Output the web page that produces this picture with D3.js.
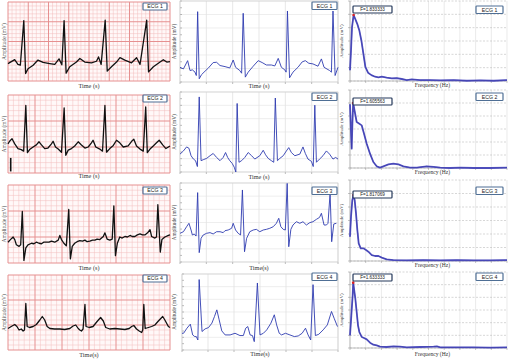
<!DOCTYPE html>
<html>
<head>
<meta charset="utf-8">
<style>
body { margin: 0; background: #fff; }
svg { display: block; font-family: "Liberation Serif", "Times New Roman", serif; }
.box text { font-family: "Liberation Sans", Arial, sans-serif; }
</style>
</head>
<body>
<svg width="508" height="359"></svg>
<script src="https://cdn.jsdelivr.net/npm/d3@7/dist/d3.min.js"></script>
<script>

var ecgNames = ["ECG 1", "ECG 2", "ECG 3", "ECG 4"];
var peakLabels = ["F=1.833333", "F=1.605563", "F=1.817069", "F=1.633333"];
var paperXLabels = ["Time (s)", "Time (s)", "Time (s)", "Time(s)"];
var digiXLabels = ["Time (s)", "Time (s)", "Time(s)", "Time(s)"];
var yLabel = "Amplitude (mV)";
var fLabel = "Frequency (Hz)";

// ECG paper records: [time (s), amplitude (mV)]
var paper1 = [[0,-0.06],[0.33,0.04],[0.49,-0.08],[0.61,-0.10],[0.78,1.03],[0.87,-0.31],[0.99,-0.19],[1.24,-0.10],[1.48,0.03],[1.73,-0.03],[2.06,-0.06],[2.31,-0.08],[2.52,0.06],[2.66,-0.09],[2.77,1.03],[2.87,-0.30],[3.05,-0.14],[3.38,-0.02],[3.55,0.07],[3.79,-0.02],[4.12,-0.04],[4.37,0.0],[4.47,0.11],[4.60,-0.08],[4.80,1.04],[4.90,-0.25],[5.11,-0.14],[5.36,-0.02],[5.53,0.09],[5.77,0.03],[6.10,-0.04],[6.35,0.09],[6.52,-0.08],[6.85,1.04],[6.94,-0.27],[7.18,-0.14],[7.51,-0.02],[7.67,0.04],[7.84,-0.02],[8.0,-0.01]];
var paper2 = [[0,0.06],[0.06,0.11],[0.15,0.16],[0.25,0.06],[0.37,-0.03],[0.49,-0.05],[0.58,-0.08],[0.66,0.80],[0.72,-0.11],[0.80,-0.05],[0.93,0.0],[1.05,0.04],[1.15,0.10],[1.24,0.04],[1.36,-0.03],[1.48,-0.02],[1.61,0.06],[1.67,0.11],[1.76,0.0],[1.86,-0.04],[1.98,-0.10],[2.08,0.75],[2.14,-0.16],[2.23,-0.06],[2.35,-0.03],[2.47,0.02],[2.60,0.10],[2.72,0.04],[2.85,-0.02],[2.97,0.0],[3.09,0.08],[3.15,0.13],[3.25,0.0],[3.40,-0.04],[3.50,-0.08],[3.59,0.80],[3.65,-0.10],[3.77,-0.03],[3.90,0.03],[4.02,0.13],[4.14,0.08],[4.27,0.0],[4.45,0.02],[4.58,0.11],[4.66,0.15],[4.76,0.02],[4.89,-0.04],[5.01,-0.08],[5.10,0.77],[5.16,-0.11],[5.26,-0.04],[5.38,0.02],[5.50,0.08],[5.60,0.13],[5.73,0.04],[5.85,-0.03],[6.0,0.02]];
var calib2 = [[0.1,-0.21],[0.1,-0.47]];
var paper3 = [[0,-0.10],[0.09,-0.05],[0.19,0.0],[0.25,-0.05],[0.31,-0.15],[0.41,-0.18],[0.47,-0.15],[0.53,0.49],[0.59,-0.45],[0.66,-0.21],[0.74,-0.15],[0.87,-0.12],[0.96,-0.13],[1.05,-0.10],[1.15,-0.12],[1.24,-0.13],[1.32,-0.10],[1.42,-0.10],[1.52,-0.10],[1.61,-0.08],[1.73,-0.10],[1.86,-0.06],[1.92,0.03],[1.98,-0.05],[2.07,-0.12],[2.16,-0.17],[2.25,0.53],[2.31,-0.42],[2.38,-0.18],[2.47,-0.12],[2.56,-0.09],[2.66,-0.07],[2.76,-0.08],[2.85,-0.06],[2.93,-0.09],[3.03,-0.08],[3.13,-0.06],[3.22,-0.06],[3.30,-0.04],[3.40,-0.05],[3.53,0.01],[3.59,0.08],[3.67,-0.04],[3.77,-0.06],[3.86,-0.04],[3.92,0.60],[3.98,-0.36],[4.05,-0.12],[4.14,0.0],[4.23,-0.02],[4.33,0.01],[4.42,0.0],[4.52,0.03],[4.60,0.01],[4.70,0.01],[4.79,0.04],[4.89,0.06],[4.98,0.04],[5.07,0.04],[5.17,0.08],[5.26,0.14],[5.32,0.01],[5.44,-0.02],[5.50,0.0],[5.55,0.62],[5.64,-0.29],[5.70,-0.05],[5.81,0.0],[5.94,0.03],[6.0,0.04]];
var paper4 = [[0,-0.07],[0.12,-0.03],[0.25,0.01],[0.33,-0.03],[0.41,-0.10],[0.49,-0.08],[0.56,-0.12],[0.61,-0.10],[0.66,0.43],[0.71,-0.03],[0.80,-0.05],[0.93,-0.03],[1.05,0.01],[1.18,0.10],[1.27,0.17],[1.36,0.10],[1.45,-0.03],[1.55,-0.07],[1.73,-0.08],[1.92,-0.08],[2.10,-0.09],[2.29,-0.07],[2.41,-0.02],[2.51,0.0],[2.60,-0.07],[2.66,-0.10],[2.72,-0.12],[2.78,-0.08],[2.85,0.41],[2.89,-0.03],[3.01,-0.05],[3.15,-0.03],[3.30,0.07],[3.43,0.15],[3.53,0.08],[3.62,-0.05],[3.77,-0.08],[3.96,-0.07],[4.14,-0.08],[4.33,-0.09],[4.49,-0.07],[4.58,-0.03],[4.66,-0.01],[4.76,-0.08],[4.86,-0.12],[4.95,-0.15],[4.99,-0.10],[5.03,0.41],[5.08,-0.07],[5.20,-0.05],[5.32,-0.03],[5.44,0.0],[5.57,0.08],[5.73,0.17],[5.81,0.10],[5.94,-0.03],[6.0,-0.05]];

// digitised records: [time (s), amplitude (mV)]
var digi1 = [[0,-0.91],[0.13,-1.03],[0.29,-0.42],[0.38,-1.15],[0.47,-1.10],[0.57,-1.27],[0.62,-1.52],[0.67,3.21],[0.73,-1.76],[0.82,-1.45],[0.95,-1.20],[1.07,-0.98],[1.26,-0.56],[1.39,-0.54],[1.52,-0.78],[1.71,-0.86],[1.89,-0.96],[2.02,-0.37],[2.11,-0.91],[2.27,-1.15],[2.34,-1.35],[2.40,3.09],[2.48,-1.64],[2.59,-1.27],[2.78,-0.83],[2.97,-0.42],[3.12,-0.56],[3.28,-0.74],[3.47,-0.74],[3.60,-0.81],[3.73,-0.25],[3.85,-0.91],[3.98,-1.10],[4.03,-1.27],[4.08,3.26],[4.16,-1.69],[4.29,-1.27],[4.48,-0.91],[4.64,-0.51],[4.76,-0.42],[4.89,-0.61],[5.05,-0.66],[5.24,-0.83],[5.37,-0.29],[5.47,-0.91],[5.68,-1.15],[5.75,-1.27],[5.81,3.26],[5.89,-1.52],[6.0,-0.91]];
var digi2 = [[0,-0.66],[0.13,-0.42],[0.25,-0.12],[0.34,-0.22],[0.42,-0.78],[0.51,-1.03],[0.59,-1.15],[0.66,-1.59],[0.73,3.63],[0.80,-1.15],[0.88,-1.08],[1.01,-0.98],[1.14,-0.78],[1.26,-0.61],[1.39,-0.91],[1.52,-1.15],[1.64,-0.91],[1.73,-0.54],[1.81,-0.91],[1.89,-1.15],[1.98,-1.35],[2.06,-1.64],[2.12,-2.0],[2.17,3.14],[2.24,-1.27],[2.34,-1.15],[2.46,-0.91],[2.59,-0.54],[2.72,-0.78],[2.84,-1.03],[3.03,-0.78],[3.16,-0.37],[3.25,-0.71],[3.35,-0.98],[3.47,-1.15],[3.56,-1.27],[3.62,3.55],[3.70,-1.15],[3.79,-0.98],[3.92,-0.78],[4.04,-0.42],[4.13,-0.17],[4.23,-0.54],[4.36,-0.78],[4.55,-0.66],[4.67,-0.12],[4.76,-0.61],[4.86,-1.03],[4.99,-1.20],[5.06,-1.59],[5.12,3.01],[5.18,-1.27],[5.30,-1.03],[5.43,-0.78],[5.56,-0.42],[5.68,-0.66],[5.81,-1.03],[5.91,-0.91],[6.0,-1.03]];
var digi3 = [[0,0.18],[0.13,0.30],[0.25,0.68],[0.34,0.94],[0.42,0.43],[0.47,0.05],[0.54,0.13],[0.61,-0.03],[0.67,3.27],[0.73,-1.29],[0.80,-0.20],[0.88,0.05],[1.01,0.18],[1.14,0.23],[1.26,0.13],[1.39,0.30],[1.52,0.30],[1.64,0.23],[1.71,0.38],[1.83,0.43],[1.96,0.56],[2.02,0.94],[2.11,0.43],[2.21,0.18],[2.30,0.05],[2.37,3.47],[2.45,-1.22],[2.53,-0.20],[2.65,0.30],[2.78,0.43],[2.90,0.48],[3.03,0.30],[3.16,0.43],[3.28,0.48],[3.41,0.56],[3.54,0.68],[3.66,0.94],[3.75,1.32],[3.83,0.68],[3.92,0.48],[4.00,0.43],[4.07,3.97],[4.13,-0.84],[4.21,0.48],[4.29,0.81],[4.42,1.06],[4.55,0.94],[4.67,1.06],[4.80,0.81],[4.93,0.99],[5.05,1.06],[5.18,1.24],[5.30,1.39],[5.37,1.70],[5.47,0.81],[5.56,0.81],[5.62,0.94],[5.70,3.22],[5.76,-0.46],[5.84,0.89],[5.94,0.94]];
var digi4 = [[0,-0.68],[0.06,-0.68],[0.19,-0.28],[0.32,0.04],[0.41,-0.81],[0.49,-0.94],[0.55,-0.94],[0.61,-1.21],[0.66,3.56],[0.77,-0.54],[0.89,-0.33],[1.02,-0.23],[1.15,0.12],[1.25,0.65],[1.34,1.17],[1.43,0.38],[1.53,-0.49],[1.66,-0.81],[1.85,-0.81],[2.04,-0.68],[2.23,-0.86],[2.36,-0.86],[2.45,-0.28],[2.53,-0.15],[2.62,-0.81],[2.71,-0.86],[2.78,-1.34],[2.90,3.29],[3.00,-0.81],[3.13,-0.68],[3.26,-0.41],[3.42,0.12],[3.55,0.78],[3.64,-0.02],[3.74,-0.68],[3.83,-0.81],[3.98,-0.68],[4.15,-0.81],[4.32,-0.94],[4.47,-0.89],[4.62,-0.68],[4.75,-0.28],[4.85,-0.81],[4.95,-1.21],[5.04,3.16],[5.13,-0.86],[5.26,-0.76],[5.43,-0.41],[5.59,-0.02],[5.75,1.04],[5.85,0.51],[5.98,-0.15]];

// spectra: [frequency (Hz), amplitude]
var spec1 = [[0,0.81],[0.51,2.30],[1.02,4.02],[1.83,4.95],[2.72,4.64],[3.74,4.27],[4.77,3.78],[5.79,3.04],[6.81,2.05],[7.83,1.06],[9.19,0.62],[10.9,0.44],[12.8,0.32],[14.5,0.27],[16.2,0.32],[18.7,0.25],[21.3,0.20],[23.8,0.22],[26.4,0.15],[28.9,0.07],[31.5,0.12],[35.7,0.07],[40.8,0.07],[46.0,0.05],[52.8,0.07],[59.6,0.02],[66.4,0.05],[73.2,0.02],[80,0.07]];
var spec2 = [[0,4.9],[0.4,3.2],[0.85,1.49],[1.2,3.3],[1.61,5.0],[3.40,3.54],[4.77,3.41],[5.96,3.28],[7.15,2.64],[8.51,1.87],[10.2,1.10],[11.9,0.46],[13.6,0.13],[15.3,0.03],[17.0,0.13],[19.6,0.28],[22.1,0.33],[24.7,0.28],[27.2,0.13],[30.6,0.03],[34.0,0.03],[39.1,0.13],[42.6,0.08],[46.0,0.03],[51.1,0.0],[56.2,0.03],[63.0,0.0],[71.5,0.0],[80,0.03]];
var spec3 = [[0,1.80],[0.51,3.28],[1.19,4.52],[1.82,4.89],[2.38,4.52],[3.06,3.53],[3.74,2.30],[4.43,1.31],[5.45,0.94],[6.81,0.94],[8.17,0.81],[9.36,0.69],[11.1,0.44],[12.8,0.37],[14.5,0.37],[16.2,0.25],[18.7,0.12],[22.1,0.07],[28.9,0.05],[37.4,0.07],[46.0,0.05],[54.5,0.07],[63.0,0.05],[71.5,0.05],[80,0.07]];
var spec4 = [[0,1.0],[0.68,2.58],[1.36,4.16],[1.63,5.16],[2.72,3.89],[3.40,2.84],[4.08,1.79],[4.77,1.26],[5.96,0.87],[7.15,0.79],[8.51,0.68],[10.2,0.42],[11.9,0.26],[13.6,0.21],[15.3,0.11],[18.7,0.08],[22.1,0.13],[25.5,0.11],[28.9,0.05],[35.7,0.08],[42.6,0.11],[44.3,0.13],[46.0,0.05],[54.5,0.05],[63.0,0.05],[71.5,0.03],[80,0.05]];

var paperData = [paper1, paper2, paper3, paper4];
var digiData = [digi1, digi2, digi3, digi4];
var specData = [spec1, spec2, spec3, spec4];

// layout
var leftBoxes = [{x0:8,x1:170,y0:2,y1:81},{x0:8,x1:170,y0:95,y1:173},{x0:8,x1:170,y0:185,y1:263},{x0:8,x1:170,y0:275,y1:350}];
var midBoxes = [{x0:180,x1:338,y0:1,y1:82},{x0:180,x1:338,y0:92,y1:172},{x0:180,x1:338,y0:183,y1:262},{x0:182,x1:338,y0:274,y1:350}];
var rightBoxes = [{x0:350,x1:507,y0:1,y1:81},{x0:350,x1:507,y0:90,y1:168},{x0:350,x1:507,y0:180,y1:261},{x0:350,x1:507,y0:272,y1:348}];
var leftLabY = [88, 178, 270, 357], midLabY = [88, 179, 270, 356], rightLabY = [87, 174, 267, 356];
var leftTagY = [3, 95, 187, 275], midTagY = [2, 93, 187, 273], rightTagY = [6, 93, 187, 273];
var peakTagY = [6, 98, 191, 274];

var svg = d3.select("svg");

function tag(x, y, w, h, txt, stroke, fs) {
  var g = svg.append("g").attr("class", "box");
  g.append("rect").attr("x", x).attr("y", y).attr("width", w).attr("height", h)
    .attr("fill", "#fff").attr("stroke", stroke).attr("stroke-width", 1.2).attr("rx", 0.8);
  g.append("text").attr("x", x + w / 2).attr("y", y + h / 2 + fs * 0.36)
    .attr("text-anchor", "middle").attr("font-size", fs).attr("fill", "#222").text(txt);
}

function vlabel(x, yc, txt, fs) {
  svg.append("text").attr("transform", "translate(" + x + "," + yc + ") rotate(-90)")
    .attr("text-anchor", "middle").attr("font-size", fs).attr("fill", "#444").text(txt);
}

function hlabel(xc, y, txt, fs) {
  svg.append("text").attr("x", xc).attr("y", y).attr("text-anchor", "middle")
    .attr("font-size", fs).attr("fill", "#333").text(txt);
}

// ---------- ECG paper panels ----------
function paperPanel(i) {
  var b = leftBoxes[i];
  var xMax = i == 0 ? 8 : 6;
  var yDom = i == 0 ? [-0.5, 1.5] : [-0.5, 1.0];
  var x = d3.scaleLinear().domain([0, xMax]).range([b.x0, b.x1]);
  var y = d3.scaleLinear().domain(yDom).range([b.y1, b.y0]);
  var g = svg.append("g");
  g.append("rect").attr("x", b.x0).attr("y", b.y0).attr("width", b.x1 - b.x0).attr("height", b.y1 - b.y0).attr("fill", "#fff8f8");

  var nx = xMax * 5, ny = Math.round((yDom[1] - yDom[0]) * 10);
  var vx = d3.range(nx + 1), vy = d3.range(ny + 1);
  g.selectAll(".mx").data(vx.filter(function(k) { return k % 5; })).enter().append("line")
    .attr("x1", function(k) { return x(k / 5); }).attr("x2", function(k) { return x(k / 5); })
    .attr("y1", b.y0).attr("y2", b.y1).attr("stroke", "#f2bcbc").attr("stroke-width", 0.5);
  g.selectAll(".my").data(vy.filter(function(k) { return k % 5; })).enter().append("line")
    .attr("y1", function(k) { return y(yDom[0] + k / 10); }).attr("y2", function(k) { return y(yDom[0] + k / 10); })
    .attr("x1", b.x0).attr("x2", b.x1).attr("stroke", "#f2bcbc").attr("stroke-width", 0.5);
  g.selectAll(".Mx").data(vx.filter(function(k) { return k % 5 == 0; })).enter().append("line")
    .attr("x1", function(k) { return x(k / 5); }).attr("x2", function(k) { return x(k / 5); })
    .attr("y1", b.y0).attr("y2", b.y1).attr("stroke", "#e69090").attr("stroke-width", 1);
  g.selectAll(".My").data(vy.filter(function(k) { return k % 5 == 0; })).enter().append("line")
    .attr("y1", function(k) { return y(yDom[0] + k / 10); }).attr("y2", function(k) { return y(yDom[0] + k / 10); })
    .attr("x1", b.x0).attr("x2", b.x1).attr("stroke", "#e69090").attr("stroke-width", 1);

  var line = d3.line().x(function(d) { return x(d[0]); }).y(function(d) { return y(d[1]); });
  g.append("path").attr("d", line(paperData[i])).attr("fill", "none")
    .attr("stroke", "#111").attr("stroke-width", 1.3).attr("stroke-linejoin", "round");
  if (i == 1) {
    g.append("path").attr("d", line(calib2)).attr("stroke", "#111").attr("stroke-width", 1.6);
  }

  tag(143, leftTagY[i], 24, 7, ecgNames[i], "#4f6f95", 5.2);
  vlabel(6, (b.y0 + b.y1) / 2, yLabel, 5.5);
  hlabel((b.x0 + b.x1) / 2, leftLabY[i], paperXLabels[i], 6.2);
}

// ---------- digitised panels ----------
function digiPanel(i) {
  var b = midBoxes[i];
  var x = d3.scaleLinear().domain([0, 6]).range([b.x0, b.x1]);
  var y = d3.scaleLinear().domain([-2, 4]).range([b.y1, b.y0]);
  var g = svg.append("g");
  var ticks = d3.range(0, 7), yt = d3.range(-2, 5), yMinor = d3.range(-4, 9).map(function(k) { return k / 2; });

  g.selectAll(".gx").data(ticks).enter().append("line")
    .attr("x1", x).attr("x2", x).attr("y1", b.y0).attr("y2", b.y1)
    .attr("stroke", "#d6d6d6").attr("stroke-width", 0.6);
  g.selectAll(".gy").data(yt).enter().append("line")
    .attr("y1", y).attr("y2", y).attr("x1", b.x0).attr("x2", b.x1)
    .attr("stroke", "#e2e2e2").attr("stroke-width", 0.6);
  g.selectAll(".ty").data(yMinor).enter().append("line")
    .attr("y1", y).attr("y2", y).attr("x1", b.x0).attr("x2", b.x0 + 2)
    .attr("stroke", "#777").attr("stroke-width", 0.5);
  g.selectAll(".tx").data(ticks).enter().append("line")
    .attr("x1", x).attr("x2", x).attr("y1", b.y1).attr("y2", b.y1 + 2)
    .attr("stroke", "#777").attr("stroke-width", 0.5);
  g.append("rect").attr("x", b.x0).attr("y", b.y0).attr("width", b.x1 - b.x0).attr("height", b.y1 - b.y0)
    .attr("fill", "none").attr("stroke", "#c8c8c8").attr("stroke-width", 0.6);

  var line = d3.line().x(function(d) { return x(d[0]); }).y(function(d) { return y(d[1]); });
  g.append("path").attr("d", line(digiData[i])).attr("fill", "none")
    .attr("stroke", "#2e3bb0").attr("stroke-width", 0.9).attr("stroke-linejoin", "round");

  tag(312, midTagY[i], 25, 7.5, ecgNames[i], "#4f6f95", 5.2);
  vlabel(176, (b.y0 + b.y1) / 2, yLabel, 5.3);
  hlabel((b.x0 + b.x1) / 2, midLabY[i], digiXLabels[i], 6.2);
}

// ---------- spectrum panels ----------
function specPanel(i) {
  var b = rightBoxes[i];
  var x = d3.scaleLinear().domain([0, 80]).range([b.x0, b.x1]);
  var y = d3.scaleLinear().domain([0, 6]).range([b.y1, b.y0]);
  var g = svg.append("g");
  var xt = d3.range(0, 81, 8), yt = d3.range(0, 7);

  g.selectAll(".gx").data(xt).enter().append("line")
    .attr("x1", x).attr("x2", x).attr("y1", b.y0).attr("y2", b.y1)
    .attr("stroke", "#dcdcdc").attr("stroke-width", 0.6);
  g.selectAll(".gy").data(yt).enter().append("line")
    .attr("y1", y).attr("y2", y).attr("x1", b.x0).attr("x2", b.x1)
    .attr("stroke", "#bcbcbc").attr("stroke-width", 0.6).attr("stroke-dasharray", "2,1.5");
  g.selectAll(".ty").data(yt).enter().append("line")
    .attr("y1", y).attr("y2", y).attr("x1", b.x0 - 2).attr("x2", b.x0)
    .attr("stroke", "#888").attr("stroke-width", 0.5);
  g.selectAll(".tx").data(xt).enter().append("line")
    .attr("x1", x).attr("x2", x).attr("y1", b.y1).attr("y2", b.y1 + 2)
    .attr("stroke", "#888").attr("stroke-width", 0.5);
  g.append("line").attr("x1", b.x0).attr("x2", b.x0).attr("y1", b.y0).attr("y2", b.y1)
    .attr("stroke", "#999").attr("stroke-width", 0.6);
  g.append("line").attr("x1", b.x0).attr("x2", b.x1).attr("y1", b.y1).attr("y2", b.y1)
    .attr("stroke", "#999").attr("stroke-width", 0.6);

  var data = specData[i];
  var line = d3.line().x(function(d) { return x(d[0]); }).y(function(d) { return y(d[1]); });
  g.append("path").attr("d", line(data)).attr("fill", "none")
    .attr("stroke", "#5a5ac6").attr("stroke-width", 1.8).attr("stroke-linejoin", "round");
  g.append("path").attr("d", line(data)).attr("fill", "none")
    .attr("stroke", "#3434a4").attr("stroke-width", 0.6);

  var pk = data[d3.maxIndex(data, function(d) { return d[1]; })];
  g.append("circle").attr("cx", x(pk[0])).attr("cy", y(pk[1])).attr("r", 1.3).attr("fill", "#d22");

  tag(353, peakTagY[i], 39, 7, peakLabels[i], "#24385a", 4.6);
  tag(476, rightTagY[i], 27, 7.5, ecgNames[i], "#4f6f95", 5.2);
  vlabel(343, (b.y0 + b.y1) / 2, yLabel, 5);
  hlabel((b.x0 + b.x1) / 2 + 4, rightLabY[i], fLabel, 5.6);
}

for (var i = 0; i < 4; i++) {
  paperPanel(i);
  digiPanel(i);
  specPanel(i);
}

</script>
</body>
</html>
